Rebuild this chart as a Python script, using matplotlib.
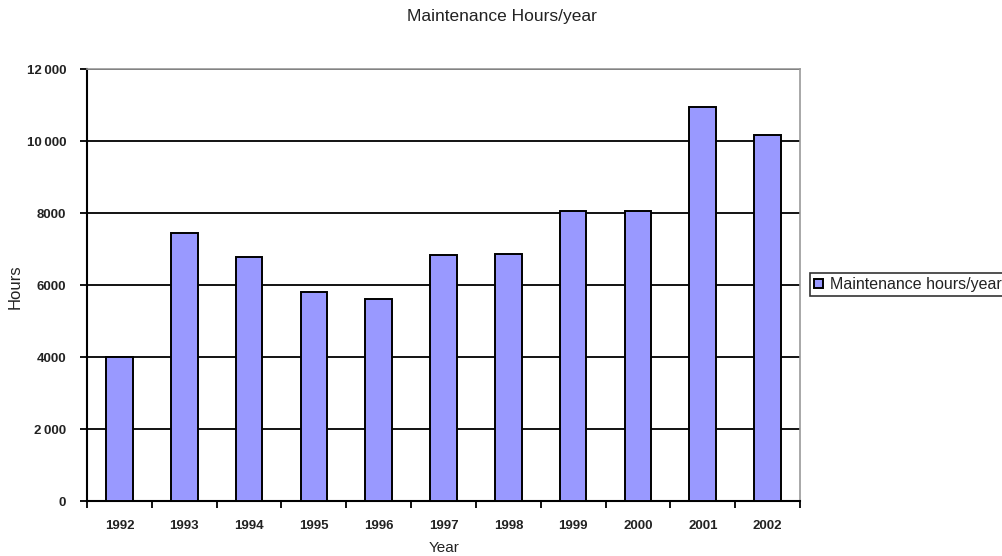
import matplotlib
matplotlib.use("Agg")
import matplotlib.pyplot as plt
import numpy as np

years = ["1992", "1993", "1994", "1995", "1996", "1997", "1998", "1999", "2000", "2001", "2002"]
hours = [4000, 7450, 6770, 5810, 5600, 6820, 6870, 8050, 8050, 10940, 10170]
y_ticks = [0, 2000, 4000, 6000, 8000, 10000, 12000]
y_tick_labels = ["0", "2\u2009000", "4000", "6000", "8000", "10\u2009000", "12\u2009000"]

plt.rcParams["font.family"] = ["Liberation Sans", "DejaVu Sans"]

W, H = 1003, 556
fig = plt.figure(figsize=(W / 100, H / 100), dpi=100)
ax = fig.add_axes([87 / W, 1 - 501 / H, (800 - 87) / W, (501 - 69) / H])

x = np.arange(len(years))
ax.bar(x, hours, width=0.41, color="#9999FF", edgecolor="black", linewidth=1.4,
       label="Maintenance hours/year", zorder=3)

ax.set_xlim(-0.5, len(years) - 0.5)
ax.set_ylim(0, 12000)
ax.set_yticks(y_ticks)
ax.set_yticklabels(y_tick_labels, fontsize=9.5, fontweight="bold", color="#222222")
ax.yaxis.grid(True, color="black", linewidth=1.3, zorder=1)

# category boundaries carry the tick marks; labels sit under bar centres
ax.set_xticks(np.arange(len(years) + 1) - 0.5)
ax.set_xticklabels([""] * (len(years) + 1))
ax.set_xticks(x, minor=True)
ax.set_xticklabels(years, minor=True, fontsize=9.5, fontweight="bold", color="#222222")
ax.tick_params(axis="x", which="major", direction="out", length=5, width=1.3)
ax.tick_params(axis="x", which="minor", length=0, pad=14)
ax.tick_params(axis="y", direction="out", length=5, width=1.3, pad=10)

for side in ("top", "right"):
    ax.spines[side].set_color("#999999")
    ax.spines[side].set_linewidth(1.2)
for side in ("left", "bottom"):
    ax.spines[side].set_color("black")
    ax.spines[side].set_linewidth(1.5)

fig.text(444 / W, 1 - 548 / H, "Year", ha="center", va="center", fontsize=11, color="#222222")
fig.text(15 / W, 1 - 287 / H, "Hours", ha="center", va="center", rotation=90,
         fontsize=12, color="#222222")
fig.text(502 / W, 1 - 17 / H, "Maintenance Hours/year", ha="center", va="center",
         fontsize=12.5, color="#222222")

leg = fig.legend(loc="upper left", bbox_to_anchor=(810 / W, 1 - 273 / H), fontsize=11.5,
                 frameon=True, fancybox=False, edgecolor="black", borderpad=0.25,
                 handlelength=0.55, handleheight=0.55, handletextpad=0.45, borderaxespad=0)
leg.get_frame().set_linewidth(1.2)
for t in leg.get_texts():
    t.set_color("#222222")

fig.savefig("out.png", dpi=100)
